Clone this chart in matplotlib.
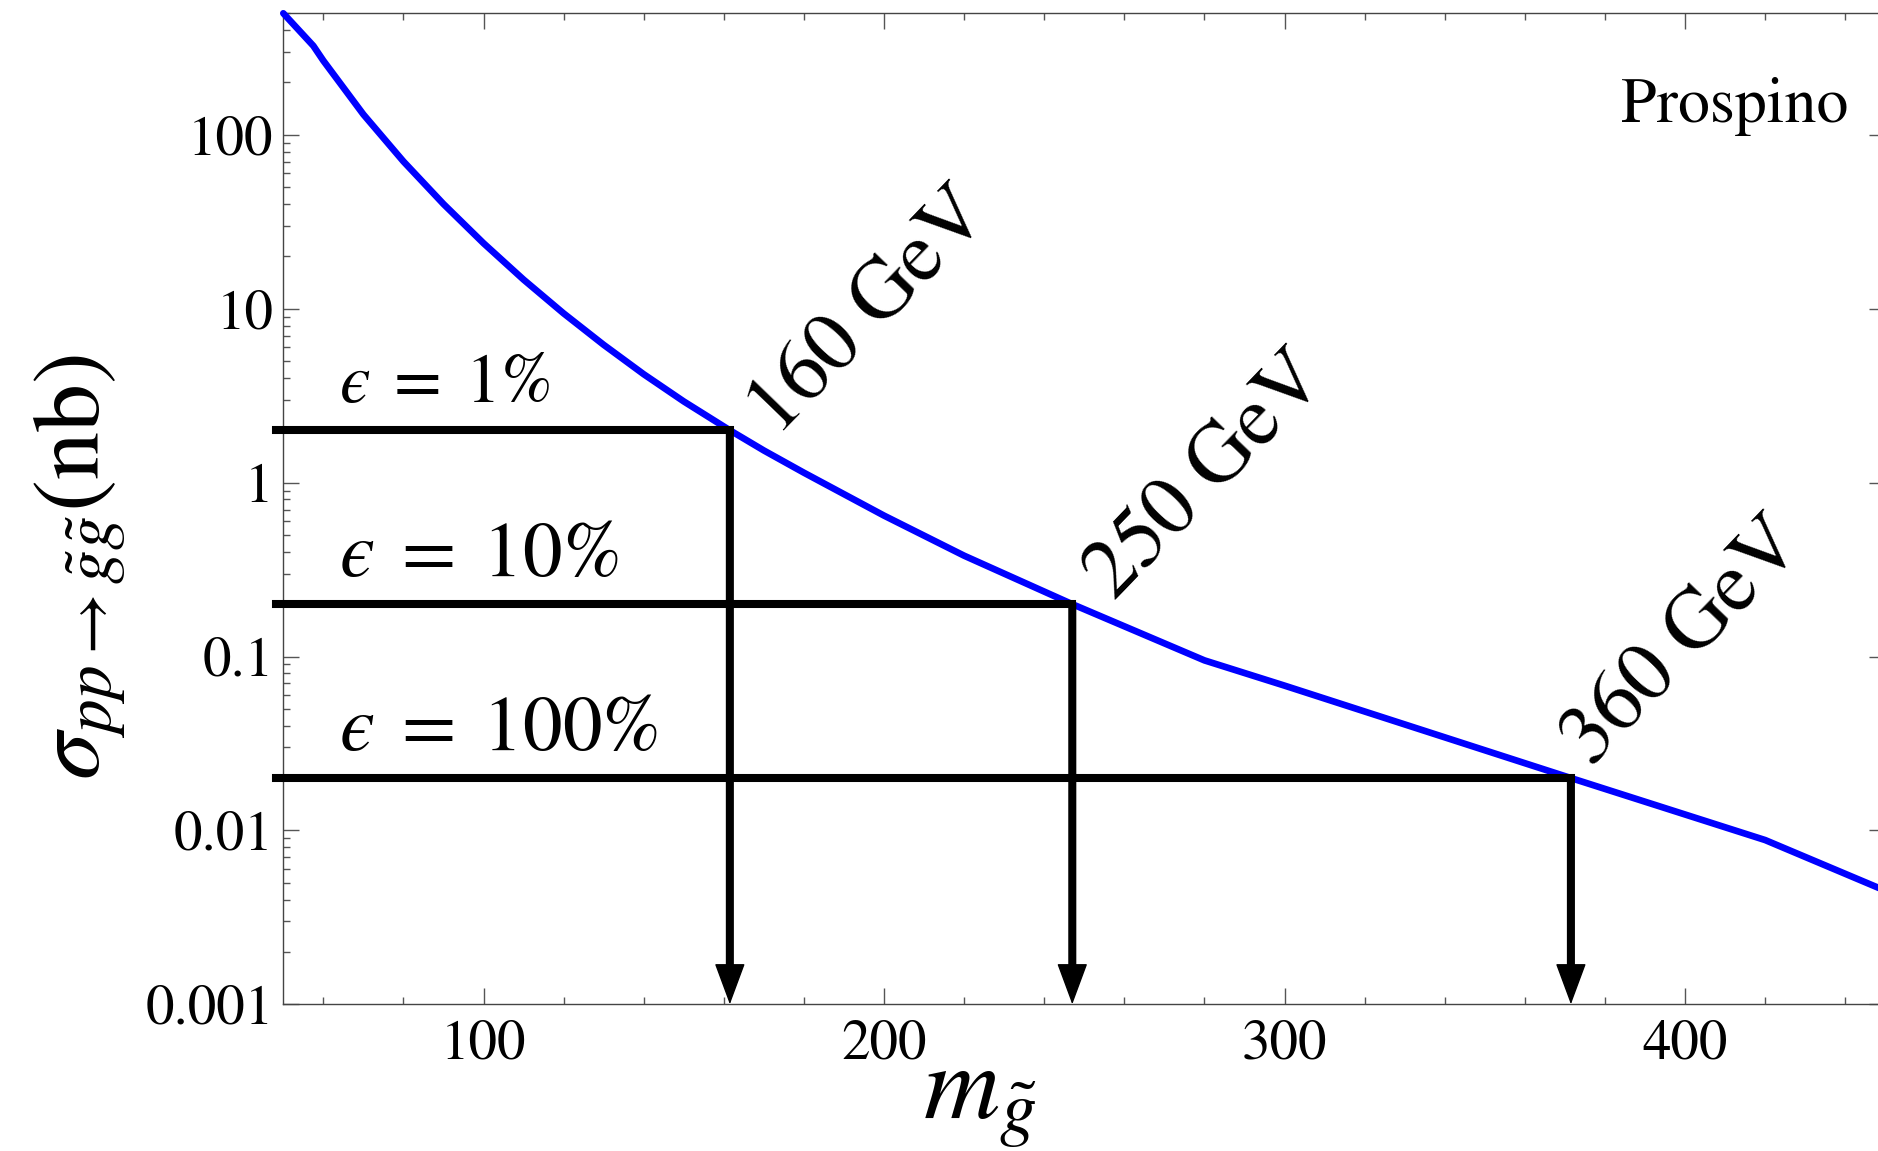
import numpy as np
import matplotlib
matplotlib.use('Agg')
import matplotlib.pyplot as plt
import matplotlib.transforms as mtransforms
from matplotlib.ticker import FixedLocator, FixedFormatter, LogLocator, NullFormatter, MultipleLocator

plt.rcParams['mathtext.fontset'] = 'stix'
plt.rcParams['font.family'] = ['STIXGeneral', 'DejaVu Serif']

# ---- data ----
mass = [50, 57.5, 60, 70, 80, 90, 100, 110, 120, 130, 140, 150, 161.5, 170, 180,
        200, 220, 247, 280, 300, 371.5, 420, 450]
sigma = [500, 325, 267, 131, 70.3, 40.0, 23.8, 14.7, 9.4, 6.2, 4.2, 2.93, 2.0, 1.53, 1.14,
         0.646, 0.38, 0.2, 0.095, 0.068, 0.02, 0.0088, 0.0045]

eps_labels = ['$\u03f5\\;=\\;1\\%$', '$\u03f5\\;=\\;10\\%$', '$\u03f5\\;=\\;100\\%$']
eps_sizes = [50, 57, 57]
eps_sigma = [2.0, 0.2, 0.02]
reach_mass = [161.5, 247, 371.5]
reach_labels = ['160 GeV', '250 GeV', '360 GeV']

xticks = [100, 200, 300, 400]
xtick_labels = ['100', '200', '300', '400']
yticks = [0.001, 0.01, 0.1, 1, 10, 100]
ytick_labels = ['0.001', '0.01', '0.1', '1', '10', '100']

# ---- figure ----
fig = plt.figure(figsize=(18.78, 11.51), dpi=100)
ax = fig.add_axes([0.15085, 0.12746, 0.85304, 0.86099])

ax.set_yscale('log')
ax.set_xlim(50, 450)
ax.set_ylim(0.001, 500)

ax.plot(mass, sigma, color='#0000ff', lw=4.8, solid_capstyle='round',
        solid_joinstyle='round', zorder=3, clip_on=False)

ymin = ax.get_ylim()[0]
for xm, ys in zip(reach_mass, eps_sigma):
    ax.plot([48.3, xm], [ys, ys], color='black', lw=5.8, solid_capstyle='projecting',
            clip_on=False, zorder=4)
    # shaft
    ax.annotate('', xy=(xm, ymin), xytext=(xm, ys),
                arrowprops=dict(arrowstyle='-', lw=5.8, color='black',
                                shrinkA=0, shrinkB=12),
                zorder=4, annotation_clip=False)
    # head
    ax.annotate('', xy=(xm, ymin), xytext=(xm, ys),
                arrowprops=dict(arrowstyle='-|>,head_length=1.35,head_width=0.5',
                                mutation_scale=20, lw=1.0, color='black',
                                shrinkA=0, shrinkB=0),
                zorder=4, annotation_clip=False)

# epsilon labels
for ys, lab, fs in zip(eps_sigma, eps_labels, eps_sizes):
    tr = mtransforms.offset_copy(ax.transData, fig=fig, x=0, y=20, units='points')
    ax.text(64, ys, lab, transform=tr, ha='left', va='baseline', fontsize=fs)

# mass reach labels
offsets = [(34, -5), (30, 2), (15, 8)]
for xm, ys, lab, (dx, dy) in zip(reach_mass, eps_sigma, reach_labels, offsets):
    tr = mtransforms.offset_copy(ax.transData, fig=fig, x=dx, y=dy, units='points')
    ax.text(xm, ys, lab, transform=tr, rotation=46, rotation_mode='anchor',
            ha='left', va='baseline', fontsize=61)

fig.text(1848 / 1878, 1 - 122 / 1151, 'Prospino', ha='right', va='baseline', fontsize=46)

# ticks
ax.xaxis.set_major_locator(FixedLocator(xticks))
ax.xaxis.set_major_formatter(FixedFormatter(xtick_labels))
ax.xaxis.set_minor_locator(MultipleLocator(20))
ax.yaxis.set_major_locator(FixedLocator(yticks))
ax.yaxis.set_major_formatter(FixedFormatter(ytick_labels))
ax.yaxis.set_minor_locator(LogLocator(base=10, subs=range(2, 10), numticks=20))
ax.yaxis.set_minor_formatter(NullFormatter())

ax.tick_params(which='both', direction='in', top=True, right=True, color='#555555', width=1.0)
ax.tick_params(which='major', length=11.3, labelsize=41)
ax.tick_params(which='minor', length=5.2)
ax.tick_params(axis='x', which='major', pad=11)
ax.tick_params(axis='y', which='major', pad=7)

for sp in ax.spines.values():
    sp.set_color('#444444')
    sp.set_linewidth(1.0)

fig.text(980 / 1878, 1 - 1118 / 1151, r'$m_{\tilde{g}}$', ha='center', va='baseline', fontsize=76)
fig.text(80 / 1878, 1 - 567 / 1151, r'$\sigma_{pp\rightarrow\tilde{g}\tilde{g}}(\mathrm{nb})$',
         rotation=90, ha='center', va='center', fontsize=69)

fig.savefig('out.png', dpi=100)
